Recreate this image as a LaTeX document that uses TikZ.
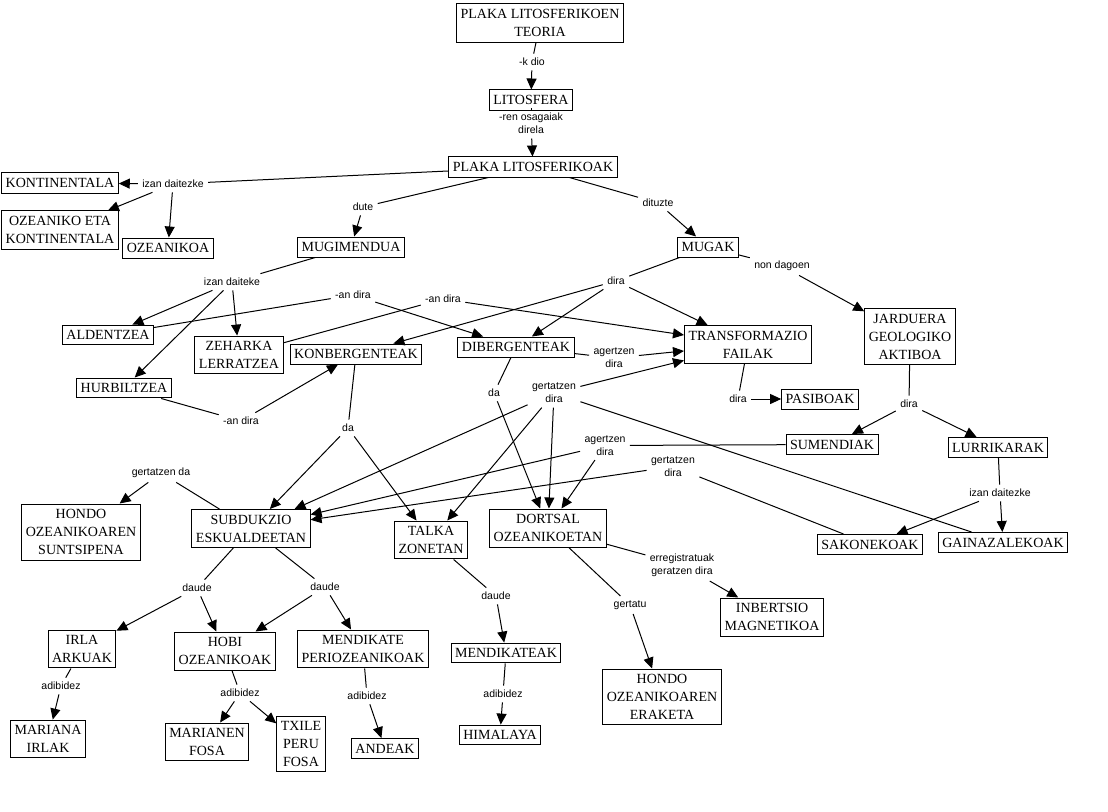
\documentclass[tikz,border=0pt]{standalone}
\usepackage{fontspec}
\setmainfont{Liberation Serif}
\newfontfamily\linkfont{Liberation Sans}
\usetikzlibrary{arrows.meta}

\begin{document}
\begin{tikzpicture}[x=1pt, y=-1pt, line width=1pt,
  concept/.style={draw, align=center, inner xsep=4pt, inner ysep=5.3pt, font=\fontsize{14}{18}\selectfont},
  phrase/.style={align=center, inner sep=4pt, font=\linkfont\fontsize{10.5}{13.3}\selectfont},
  arr/.style={-{Triangle[length=11pt, width=10pt]}}]
  \path[use as bounding box, fill=white] (0,0) rectangle (1108,811);

  % Concepts
  \node[concept] (teoria) at (540,23) {PLAKA LITOSFERIKOEN\\TEORIA};
  \node[concept] (litosfera) at (531,100) {LITOSFERA};
  \node[concept] (plakak) at (533,167) {PLAKA LITOSFERIKOAK};
  \node[concept] (kontinentala) at (60,183) {KONTINENTALA};
  \node[concept] (ozekont) at (60,230) {OZEANIKO ETA\\KONTINENTALA};
  \node[concept] (ozeanikoa) at (168,248) {OZEANIKOA};
  \node[concept] (mugimendua) at (351,247) {MUGIMENDUA};
  \node[concept] (mugak) at (708,247) {MUGAK};
  \node[concept] (jarduera) at (910,336.5) {JARDUERA\\GEOLOGIKO\\AKTIBOA};
  \node[concept] (aldentzea) at (108,335) {ALDENTZEA};
  \node[concept] (zeharka) at (239,355) {ZEHARKA\\LERRATZEA};
  \node[concept] (konbergenteak) at (356,354) {KONBERGENTEAK};
  \node[concept] (dibergenteak) at (516,347) {DIBERGENTEAK};
  \node[concept] (transformazio) at (748,344.5) {TRANSFORMAZIO\\FAILAK};
  \node[concept] (hurbiltzea) at (124,388) {HURBILTZEA};
  \node[concept] (pasiboak) at (820,399) {PASIBOAK};
  \node[concept] (sumendiak) at (832,444.5) {SUMENDIAK};
  \node[concept] (lurrikarak) at (998,447.5) {LURRIKARAK};
  \node[concept] (suntsipena) at (81,532) {HONDO\\OZEANIKOAREN\\SUNTSIPENA};
  \node[concept] (subdukzio) at (251,528.5) {SUBDUKZIO\\ESKUALDEETAN};
  \node[concept] (talka) at (431,540) {TALKA\\ZONETAN};
  \node[concept] (dortsal) at (548,528) {DORTSAL\\OZEANIKOETAN};
  \node[concept] (sakonekoak) at (870,544.5) {SAKONEKOAK};
  \node[concept] (gainazalekoak) at (1003,542.5) {GAINAZALEKOAK};
  \node[concept] (irla) at (82,649) {IRLA\\ARKUAK};
  \node[concept] (hobi) at (225,651) {HOBI\\OZEANIKOAK};
  \node[concept] (mendikate) at (363,649) {MENDIKATE\\PERIOZEANIKOAK};
  \node[concept] (mendikateak) at (506,653) {MENDIKATEAK};
  \node[concept] (inbertsio) at (772,617) {INBERTSIO\\MAGNETIKOA};
  \node[concept] (eraketa) at (662,697) {HONDO\\OZEANIKOAREN\\ERAKETA};
  \node[concept] (mariana) at (48,739) {MARIANA\\IRLAK};
  \node[concept] (marianen) at (207,742) {MARIANEN\\FOSA};
  \node[concept] (txile) at (301,744) {TXILE\\PERU\\FOSA};
  \node[concept] (andeak) at (385,748.5) {ANDEAK};
  \node[concept] (himalaya) at (500,735) {HIMALAYA};

  % Linking phrases
  \node[phrase] (kdio) at (532,62) {-k dio};
  \node[phrase] (osagaiak) at (531,123.5) {-ren osagaiak\\direla};
  \node[phrase] (izan1) at (173,184) {izan daitezke};
  \node[phrase] (dute) at (363,207) {dute};
  \node[phrase] (dituzte) at (658,203) {dituzte};
  \node[phrase] (izan2) at (232,282) {izan daiteke};
  \node[phrase] (andira1) at (353,295) {-an dira};
  \node[phrase] (andira2) at (443,299) {-an dira};
  \node[phrase] (dira1) at (616,281) {dira};
  \node[phrase] (nondagoen) at (782,266) {non dagoen};
  \node[phrase] (andira3) at (241,421) {-an dira};
  \node[phrase] (agertzen1) at (614,358) {agertzen\\dira};
  \node[phrase] (da1) at (494,393) {da};
  \node[phrase] (gertatzen1) at (554,393) {gertatzen\\dira};
  \node[phrase] (dira2) at (738,399) {dira};
  \node[phrase] (dira3) at (909,404) {dira};
  \node[phrase] (da2) at (348,428) {da};
  \node[phrase] (agertzen2) at (605,445.5) {agertzen\\dira};
  \node[phrase] (gertatzen2) at (673,466.5) {gertatzen\\dira};
  \node[phrase] (gertatzenda) at (161,473) {gertatzen da};
  \node[phrase] (izan3) at (1000,493) {izan daitezke};
  \node[phrase] (daude1) at (197,588) {daude};
  \node[phrase] (daude2) at (325,587) {daude};
  \node[phrase] (daude3) at (496,596) {daude};
  \node[phrase] (erregistratuak) at (682,565) {erregistratuak\\geratzen dira};
  \node[phrase] (gertatu) at (630,605) {gertatu};
  \node[phrase] (adibidez1) at (61,686) {adibidez};
  \node[phrase] (adibidez2) at (240,693) {adibidez};
  \node[phrase] (adibidez3) at (367,696) {adibidez};
  \node[phrase] (adibidez4) at (503,694) {adibidez};

  % Edges
  \foreach \x/\y in {teoria/kdio, litosfera/osagaiak, plakak/izan1, plakak/dute, plakak/dituzte,
    mugimendua/izan2, aldentzea/andira1, zeharka/andira2, mugak/dira1, mugak/nondagoen,
    hurbiltzea/andira3, dibergenteak/agertzen1, dibergenteak/da1, gainazalekoak/gertatzen1,
    transformazio/dira2, jarduera/dira3, konbergenteak/da2, sumendiak/agertzen2,
    sakonekoak/gertatzen2, subdukzio/gertatzenda, lurrikarak/izan3, subdukzio/daude1,
    subdukzio/daude2, talka/daude3, dortsal/erregistratuak, dortsal/gertatu,
    irla/adibidez1, hobi/adibidez2, mendikate/adibidez3, mendikateak/adibidez4}
    \draw (\x) -- (\y);

  % Arrows
  \foreach \x/\y in {kdio/litosfera, osagaiak/plakak, izan1/kontinentala, izan1/ozekont,
    izan1/ozeanikoa, dute/mugimendua, dituzte/mugak, izan2/aldentzea, izan2/zeharka,
    izan2/hurbiltzea, andira1/dibergenteak, andira2/transformazio, dira1/konbergenteak,
    dira1/dibergenteak, dira1/transformazio, nondagoen/jarduera, andira3/konbergenteak,
    agertzen1/transformazio, da1/dortsal, gertatzen1/transformazio, gertatzen1/subdukzio,
    gertatzen1/talka, gertatzen1/dortsal, dira2/pasiboak, dira3/sumendiak, dira3/lurrikarak,
    da2/subdukzio, da2/talka, agertzen2/subdukzio, agertzen2/dortsal, gertatzen2/subdukzio,
    gertatzenda/suntsipena, izan3/sakonekoak, izan3/gainazalekoak, daude1/irla, daude1/hobi,
    daude2/hobi, daude2/mendikate, daude3/mendikateak, erregistratuak/inbertsio,
    gertatu/eraketa, adibidez1/mariana, adibidez2/marianen, adibidez2/txile,
    adibidez3/andeak, adibidez4/himalaya}
    \draw[arr] (\x) -- (\y);
\end{tikzpicture}
\end{document}
